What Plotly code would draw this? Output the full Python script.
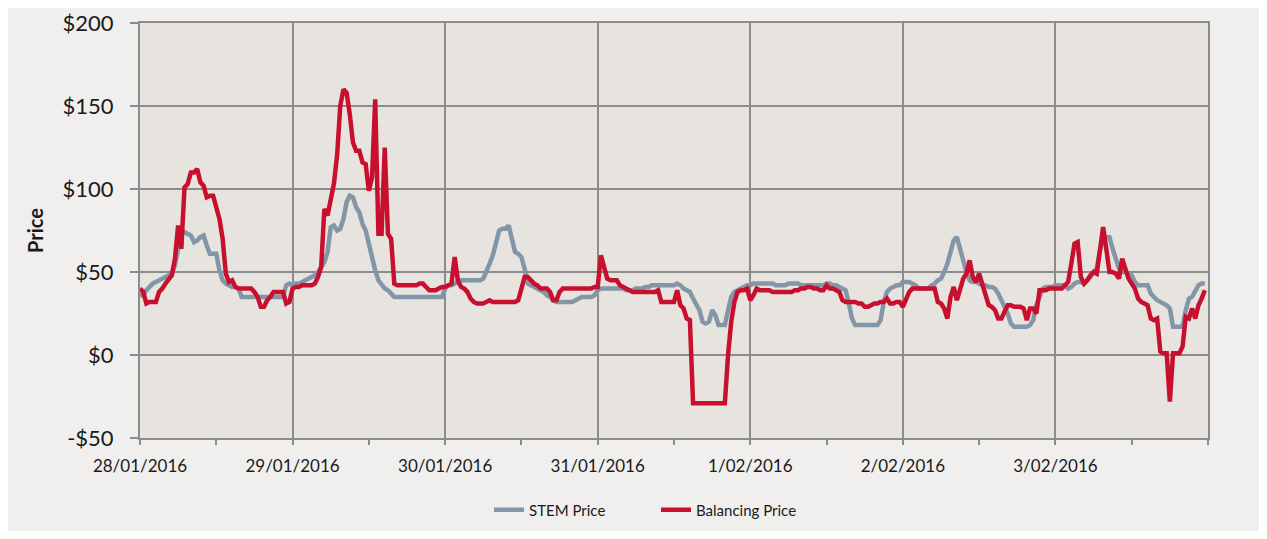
import pandas as pd
import plotly.graph_objects as go

# Half-hourly prices ($/MWh), one list of 48 values per trading day
days = ["2016-01-28", "2016-01-29", "2016-01-30", "2016-01-31",
        "2016-02-01", "2016-02-02", "2016-02-03"]
day_labels = ["28/01/2016", "29/01/2016", "30/01/2016", "31/01/2016",
              "1/02/2016", "2/02/2016", "3/02/2016"]

stem_d1 = [36, 36, 39, 41, 43, 44, 45, 46, 47, 48, 49, 54, 65, 74, 74, 73,
           72, 68, 69, 71, 72, 66, 61, 61, 61, 51, 45, 43, 42, 41, 41, 40,
           35, 35, 35, 35, 35, 35, 35, 35, 35, 35, 35, 35, 35, 35, 42, 43]
stem_d2 = [42, 43, 43, 44, 45, 46, 47, 48, 50, 53, 56, 62, 77, 78, 75, 76,
           82, 92, 96, 95, 89, 86, 79, 75, 67, 58, 51, 45, 42, 40, 39, 37,
           35, 35, 35, 35, 35, 35, 35, 35, 35, 35, 35, 35, 35, 35, 35, 35]
stem_d3 = [40, 42, 42, 43, 44, 45, 45, 45, 45, 45, 45, 45, 46, 50, 55, 60,
           67, 75, 76, 76, 78, 69, 62, 61, 59, 52, 43, 42, 41, 40, 39, 38,
           36, 35, 33, 32, 32, 32, 32, 32, 32, 33, 34, 35, 35, 35, 35, 36]
stem_d4 = [39, 40, 40, 40, 40, 40, 40, 40, 40, 39, 39, 39, 40, 40, 40, 41,
           41, 42, 42, 42, 42, 42, 42, 42, 42, 43, 42, 40, 39, 38, 34, 30,
           27, 20, 19, 20, 27, 24, 18, 18, 18, 27, 35, 38, 39, 40, 41, 42]
stem_d5 = [42, 43, 43, 43, 43, 43, 43, 43, 42, 42, 42, 42, 43, 43, 43, 43,
           42, 42, 42, 42, 42, 42, 42, 42, 43, 43, 42, 42, 41, 40, 39, 31,
           22, 18, 18, 18, 18, 18, 18, 18, 18, 21, 32, 38, 40, 41, 42, 42]
stem_d6 = [44, 44, 44, 43, 42, 40, 40, 40, 40, 42, 43, 45, 46, 50, 55, 62,
           69, 71, 64, 56, 50, 45, 44, 44, 43, 42, 42, 41, 41, 40, 37, 33,
           30, 25, 19, 17, 17, 17, 17, 17, 18, 21, 30, 36, 40, 41, 41, 41]
stem_d7 = [42, 42, 42, 42, 40, 41, 43, 44, 44, 43, 45, 47, 50, 52, 63, 69,
           71, 71, 64, 57, 52, 50, 50, 49, 48, 44, 42, 42, 42, 42, 37, 35,
           33, 32, 31, 30, 28, 17, 17, 17, 17, 27, 34, 35, 38, 42, 43, 43]

bal_d1 = [40, 38, 31, 32, 32, 32, 38, 40, 43, 46, 48, 58, 78, 64, 101, 103,
          110, 110, 112, 104, 102, 95, 96, 96, 88, 82, 70, 49, 44, 45, 41, 40,
          40, 40, 40, 40, 38, 35, 29, 29, 33, 35, 38, 38, 38, 38, 31, 32]
bal_d2 = [40, 41, 41, 42, 42, 42, 42, 43, 47, 53, 88, 84, 95, 103, 120, 150,
          160, 158, 145, 128, 123, 123, 116, 115, 99, 107, 154, 73, 73, 125, 73, 70,
          43, 42, 42, 42, 42, 42, 42, 42, 43, 43, 41, 39, 39, 39, 40, 41]
bal_d3 = [41, 42, 43, 59, 45, 41, 40, 38, 34, 32, 31, 31, 31, 32, 33, 32,
          32, 32, 32, 32, 32, 32, 32, 33, 41, 47, 47, 45, 43, 42, 40, 40,
          40, 38, 33, 33, 38, 40, 40, 40, 40, 40, 40, 40, 40, 40, 40, 41]
bal_d4 = [41, 60, 53, 46, 45, 45, 45, 42, 41, 40, 39, 38, 38, 38, 38, 38,
          38, 38, 38, 39, 32, 32, 32, 32, 32, 39, 30, 28, 22, 21, -29, -29,
          -29, -29, -29, -29, -29, -29, -29, -29, -29, 0, 20, 32, 38, 39, 39, 40]
bal_d5 = [33, 36, 40, 39, 39, 39, 39, 38, 38, 38, 38, 38, 38, 38, 39, 39,
          40, 40, 41, 41, 40, 40, 39, 39, 42, 40, 40, 39, 38, 33, 32, 32,
          32, 32, 31, 31, 29, 29, 30, 31, 31, 32, 32, 34, 31, 31, 32, 32]
bal_d6 = [29, 33, 38, 40, 40, 40, 40, 40, 40, 40, 40, 32, 31, 28, 22, 35,
          41, 33, 40, 46, 49, 57, 47, 44, 49, 43, 36, 30, 29, 27, 22, 22,
          26, 30, 30, 29, 29, 29, 28, 21, 28, 28, 25, 39, 39, 39, 40, 40]
bal_d7 = [40, 40, 40, 42, 44, 55, 67, 68, 47, 43, 45, 48, 50, 49, 63, 77,
          64, 50, 50, 49, 46, 58, 52, 46, 43, 40, 34, 32, 31, 30, 22, 21,
          22, 2, 1, 1, -28, 1, 1, 1, 5, 23, 22, 28, 22, 30, 34, 39]

stem = stem_d1 + stem_d2 + stem_d3 + stem_d4 + stem_d5 + stem_d6 + stem_d7
balancing = bal_d1 + bal_d2 + bal_d3 + bal_d4 + bal_d5 + bal_d6 + bal_d7
times = pd.date_range(days[0], periods=len(stem), freq="30min")

y_ticks = [-50, 0, 50, 100, 150, 200]
y_labels = ["-$50", "$0", "$50", "$100", "$150", "$200"]

GREY = "#8396a8"
RED = "#c8102e"
GRID = "#8c8c8c"
FONT = "Lato"

fig = go.Figure()
fig.add_trace(go.Scatter(x=times, y=stem, mode="lines", name="STEM Price",
                         line=dict(color=GREY, width=4.5)))
fig.add_trace(go.Scatter(x=times, y=balancing, mode="lines", name="Balancing Price",
                         line=dict(color=RED, width=4.5)))

fig.update_layout(
    width=1251, height=523,
    margin=dict(l=132, r=51, t=15, b=93),
    paper_bgcolor="#f0efed",
    plot_bgcolor="#e7e4e0",
    font=dict(family=FONT, color="#1a1a1a"),
    showlegend=True,
    legend=dict(orientation="h", xref="container", yref="container",
                x=0.518, y=0.04, xanchor="center", yanchor="middle",
                font=dict(size=15, family=FONT), bgcolor="rgba(0,0,0,0)",
                entrywidth=122, tracegroupgap=0),
)
fig.update_xaxes(
    type="date",
    automargin=False,
    range=[days[0], "2016-02-04"],
    tickvals=days, ticktext=day_labels,
    tickfont=dict(size=17, family=FONT),
    ticks="", ticklabelstandoff=12,
    showgrid=True, gridcolor=GRID, gridwidth=2,
    showline=True, linecolor=GRID, linewidth=2, mirror=True,
    zeroline=False,
    minor=dict(dtick=43200000, tick0="2016-01-28 12:00", ticks="outside",
               ticklen=5, tickcolor=GRID, tickwidth=1.5, showgrid=False),
)
fig.update_yaxes(
    automargin=False,
    range=[-50, 200],
    tickvals=y_ticks, ticktext=y_labels,
    tickfont=dict(size=22, family=FONT),
    ticks="outside", ticklen=8, tickcolor=GRID, tickwidth=2,
    ticklabelstandoff=12,
    showgrid=True, gridcolor=GRID, gridwidth=2,
    showline=True, linecolor=GRID, linewidth=2, mirror=True,
    zeroline=False,
    title=dict(text="<b>Price</b>", font=dict(size=20, family=FONT), standoff=14),
)

fig.write_html("out.html")
